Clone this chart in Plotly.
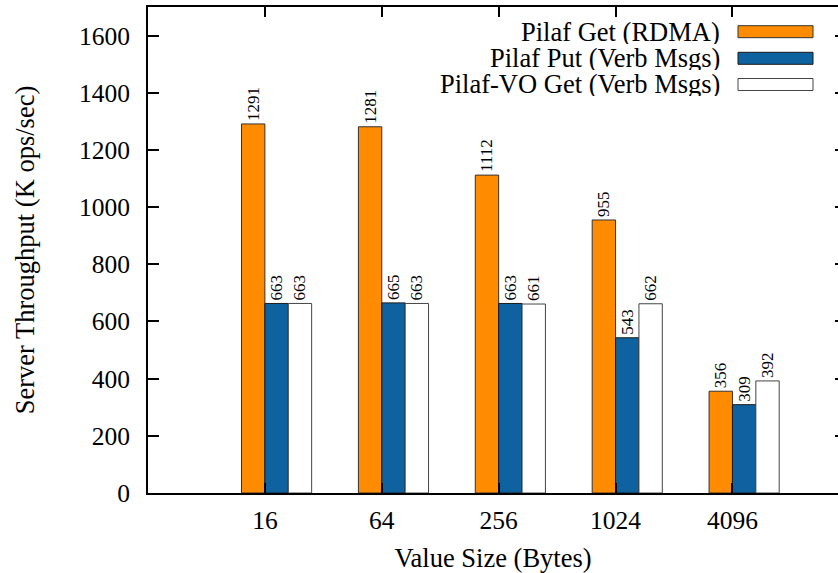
import plotly.graph_objects as go

sizes = ["16", "64", "256", "1024", "4096"]
get_rdma = [1291, 1281, 1112, 955, 356]
put_verb = [663, 665, 663, 543, 309]
vo_get = [663, 663, 661, 662, 392]
series_names = ["Pilaf Get (RDMA)", "Pilaf Put (Verb Msgs)", "Pilaf-VO Get (Verb Msgs)"]
y_ticks = [0, 200, 400, 600, 800, 1000, 1200, 1400, 1600]

colors = ["#FF8C00", "#0E62A0", "#FFFFFF"]
outlines = ["#333333", "#1a1a1a", "#444444"]
offsets = [-0.2, 0.0, 0.2]
FONT = "Liberation Serif"

W, H = 838, 573
ML, MR, MT, MB = 148, 0, 7, 80
PW, PH = W - ML - MR, H - MT - MB

x_idx = list(range(len(sizes)))

fig = go.Figure()
for name, vals, c, oc, off in zip(series_names, [get_rdma, put_verb, vo_get], colors, outlines, offsets):
    fig.add_trace(go.Bar(
        x=x_idx, y=vals, name=name,
        offset=off, width=0.2,
        marker=dict(color=c, line=dict(color=oc, width=1)),
        text=[str(v) for v in vals], textposition="outside", textangle=-90,
        textfont=dict(family=FONT, size=17, color="black"),
        constraintext="none", cliponaxis=False, showlegend=False,
    ))

# manual legend (gnuplot style: text right, sample box at right)
def px_x(p):
    return (p - ML) / PW

def px_y(p):
    return (H - MB - p) / PH

rows = [31.7, 58.3, 84.5]
for name, c, oc, ry in zip(series_names, colors, outlines, rows):
    fig.add_annotation(xref="paper", yref="paper", x=px_x(721), y=px_y(ry),
                       text=name, showarrow=False, xanchor="right", yanchor="middle",
                       height=24, valign="middle", borderpad=0,
                       font=dict(family=FONT, size=26.5, color="black"))
    fig.add_shape(type="rect", xref="paper", yref="paper",
                  x0=px_x(738), x1=px_x(813), y0=px_y(ry - 6), y1=px_y(ry + 6),
                  fillcolor=c, line=dict(color=oc, width=1))

fig.update_layout(
    width=W, height=H,
    margin=dict(l=ML, r=MR, t=MT, b=MB),
    paper_bgcolor="white", plot_bgcolor="white",
    barmode="overlay",
    font=dict(family=FONT, size=25, color="black"),
    xaxis=dict(
        range=[-1, 4.903], tickvals=x_idx, ticktext=sizes,
        showline=True, linecolor="black", linewidth=2, mirror="ticks",
        ticks="inside", ticklen=10, tickwidth=1.5, tickcolor="black",
        showgrid=False, zeroline=False, ticklabelstandoff=3,
        title=dict(text="Value Size (Bytes)", standoff=17,
                   font=dict(family=FONT, size=26.5)),
        tickfont=dict(family=FONT, size=25.5),
    ),
    yaxis=dict(
        range=[0, 1700], tickvals=y_ticks,
        showline=True, linecolor="black", linewidth=2,
        ticks="inside", ticklen=11, tickwidth=1.5, tickcolor="black",
        showgrid=False, zeroline=False, ticklabelstandoff=11,
        title=dict(text="Server Throughput (K ops/sec)", standoff=37,
                   font=dict(family=FONT, size=26.5)),
        tickfont=dict(family=FONT, size=25.5),
    ),
    yaxis2=dict(
        range=[0, 1700], tickvals=y_ticks, overlaying="y", side="right",
        showticklabels=False, ticks="inside", ticklen=3, tickwidth=1.5,
        tickcolor="black", showline=False, showgrid=False, zeroline=False,
    ),
)
# invisible trace to activate right-side tick axis
fig.add_trace(go.Scatter(x=[None], y=[None], yaxis="y2", showlegend=False, hoverinfo="skip"))

fig.write_html("out.html", config={"displayModeBar": False},
               post_script="document.body.style.margin='0';document.body.style.padding='0';")
